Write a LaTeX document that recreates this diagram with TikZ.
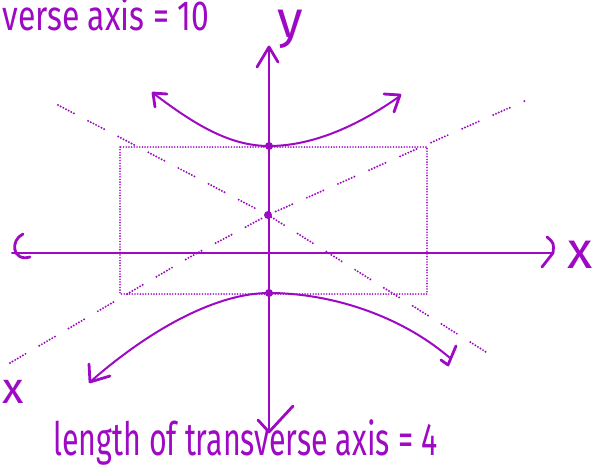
\documentclass[tikz,border=0pt]{standalone}
\usepackage{fontspec}
\setmainfont{Fira Sans}
\usetikzlibrary{calc}
\definecolor{sketchPurple}{RGB}{158,10,196}

\begin{document}
\begin{tikzpicture}[x=0.5pt,y=-0.5pt,
    ink/.style={sketchPurple,line width=1pt,line cap=round,line join=round},
    tip/.style={sketchPurple,line width=1.4pt,line cap=round,line join=round},
    asym/.style={sketchPurple,line width=1.1pt,line cap=round,
      dash pattern=on 0pt off 1.5pt on 0pt off 1.5pt on 0pt off 1.5pt on 0pt off 1.5pt on 0pt off 1.5pt on 0pt off 1.5pt on 0pt off 8pt},
    box/.style={sketchPurple,line width=0.9pt,line cap=round,dash pattern=on 0pt off 1.35pt},
    vtx/.style={circle,fill=sketchPurple,inner sep=0pt,minimum size=4pt},
    note/.style={text=sketchPurple,inner sep=0pt}]
  \fill[white] (0,0) rectangle (607,468);
  \useasboundingbox (0,0) rectangle (607,468);
  \clip (0,0) rectangle (607,468);
  % Axes
  \coordinate (xLeft) at (12,253);
  \coordinate (xRight) at (553,253);
  \coordinate (yTop) at (269,47);
  \coordinate (yBot) at (269,432);
  \draw[ink] (xLeft) -- (xRight);
  \draw[ink] (yBot) -- (yTop);
  \draw[tip] (547,237) .. controls (554,243) .. (xRight) -- (542,267);
  \draw[tip] (23,234) .. controls (10,240) and (12,262) .. (30,257);
  \draw[tip] (257,67) -- (yTop) -- (278,62);
  \draw[tip] (258,420) -- (yBot) -- (293,406);
  \node[note,font=\fontsize{26}{26}\selectfont,anchor=base] (yLbl) at (290,37) {y};
  \node[note,font=\fontsize{26}{26}\selectfont,anchor=base] (xLbl) at (580,268) {x};
  \node[note,font=\fontsize{22}{22}\selectfont,anchor=base] (xLblLow) at (13,403) {x};
  % Box and asymptotes
  \draw[box] (120,147) rectangle (427,294);
  \node[vtx] (ctr) at (268,215) {};
  \draw[asym] (58,105) -- (ctr.center) -- (486,352);
  \draw[asym] (10,363) -- (190,257) -- (ctr.center) -- (527,100);
  % Hyperbola branches
  \node[vtx] (vUp) at (269,146) {};
  \node[vtx] (vDown) at (269,293) {};
  \draw[ink] (153,93) .. controls (195,125) and (230,146) .. (vUp.center)
    .. controls (310,146) and (355,128) .. (400,96);
  \draw[ink] (90,382) .. controls (155,325) and (220,293) .. (vDown.center)
    .. controls (330,293) and (400,315) .. (450,358);
  \draw[tip] (155,107) -- (153,93) -- (167,94);
  \draw[tip] (384,94) -- (400,95) -- (394,112);
  \draw[tip] (89,364) -- (90,382) -- (110,376);
  \draw[tip] (441,360) -- (448,365) -- (456,346);
  % Notes
  \node[note,font=\fontsize{21}{21}\selectfont,anchor=base west] (topNote) at (2,30)
    {\scalebox{0.76}[1]{verse axis = 10}};
  \node[note,font=\fontsize{23}{23}\selectfont,anchor=base west] (bottomNote) at (53,455)
    {\scalebox{0.66}[1]{length of transverse axis = 4}};
\end{tikzpicture}
\end{document}
